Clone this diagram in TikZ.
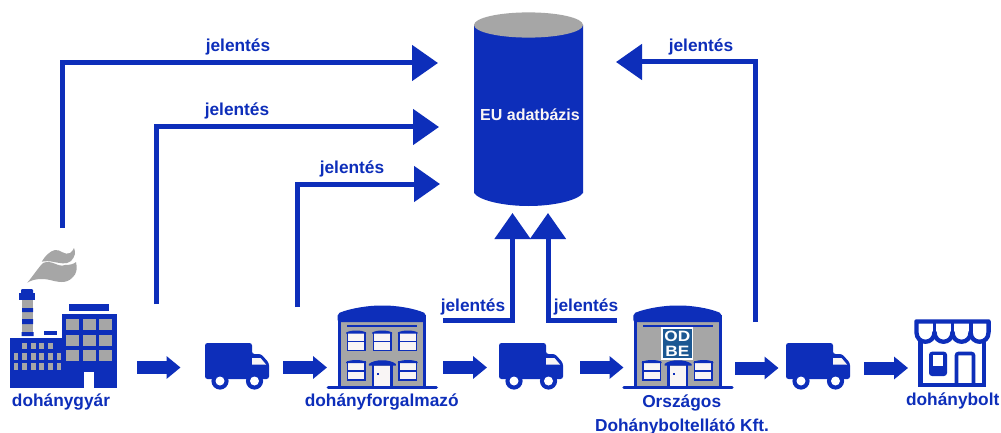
\documentclass[tikz,border=0pt]{standalone}
\usepackage{fontspec}
\setmainfont{Liberation Sans}
\usetikzlibrary{arrows.meta}
\definecolor{eublue}{RGB}{13,46,186}
\definecolor{eugray}{RGB}{166,166,166}
\definecolor{winwhite}{RGB}{249,245,245}
\definecolor{odbe}{RGB}{28,88,146}
\tikzset{
  lbl/.style={text=eublue,font=\fontsize{17.3}{20}\selectfont\bfseries,inner sep=0pt,align=center},
  report/.style={draw=eublue,line width=5pt,-{Triangle[length=26pt,width=35pt]}},
  flow/.style={draw=eublue,line width=13pt,-{Triangle[length=14pt,width=22pt]}},
  win/.style={fill=eugray,draw=none},
  sash/.style={fill=winwhite,draw=eublue,line width=1.5pt},
  logotext/.style={inner sep=0pt,text=white,xscale=1.15,font=\fontsize{15}{15}\selectfont\bfseries},
  pics/truck/.style={code={
    \fill[eublue,rounded corners=2.5pt] (0,0) -- (47,0) -- (47,11) -- (56,11) -- (64,20) -- (64,36) -- (0,36) -- cycle;
    \fill[winwhite] (47,15) -- (55.5,15) -- (61,21.5) -- (47,21.5) -- cycle;
    \fill[eublue] (15,38) circle (8.6) (49.5,38) circle (8.6);
    \fill[white] (15,38) circle (4.5) (49.5,38) circle (4.5);
  }},
  pics/house/.style={code={
    \fill[eugray] (0,9) rectangle (85,82);
    \draw[eublue,line width=3pt] (0,10) -- (0,82) (85.5,10) -- (85.5,82);
    \draw[eublue,line width=3.4pt,line cap=round] (-11,82.3) -- (97,82.3);
    \fill[eublue,rounded corners=2pt] (-1.6,17) -- (-1.6,8.5) .. controls (12,3) and (30,0.5) .. (43,0.5) .. controls (56,0.5) and (74,3) .. (86.6,8.5) -- (86.6,17) -- cycle;
    \draw[eublue,line width=2.6pt] (33.5,58) -- (33.5,81) (52,58) -- (52,81);
    \fill[eublue] (29.5,59) .. controls (35,54) and (51,54) .. (56.5,59) -- (56.5,60.5) -- (29.5,60.5) -- cycle;
    \fill[winwhite] (35,60.5) rectangle (51,81);
    \fill[eublue] (37.5,68) rectangle (40,69.5);
  }},
  pics/housewin/.style={code={
    \draw[sash] (0,1.5) rectangle (17.5,19.5);
    \draw[eublue,line width=1.3pt] (0,10.5) -- (17.5,10.5);
    \fill[eublue] (-1.2,1.6) .. controls (3,-1.2) and (15,-1.2) .. (18.7,1.6) -- (18.7,2.6) -- (-1.2,2.6) -- cycle;
  }}
}
\begin{document}
\begin{tikzpicture}[x=1pt,y=-1pt,line join=miter]
\useasboundingbox (0,0) rectangle (1001,433);
\fill[white] (0,0) rectangle (1001,433);

% database
\fill[eublue] (474,25) -- (474,193) .. controls (480,201) and (505,206) .. (528.5,206) .. controls (552,206) and (577,201) .. (583,193) -- (583,25) -- cycle;
\fill[eugray] (528.5,25) ellipse[x radius=54.5,y radius=12.6];
\node[inner sep=0pt,text=winwhite,font=\fontsize{16}{18}\selectfont\bfseries] (db) at (530,114.5) {EU adatbázis};
\coordinate (dbA) at (438,63);
\coordinate (dbB) at (439,127);
\coordinate (dbC) at (440,184);
\coordinate (dbD) at (616,62);
\coordinate (dbE) at (512.5,213);
\coordinate (dbF) at (548,213);

% factory
\begin{scope}
\fill[eublue] (9.5,338) rectangle (62,388);
\fill[eublue] (62,314) rectangle (117,388);
\fill[white] (84,372) rectangle (94,388.5);
\fill[eublue] (69,304) rectangle (109,311);
\fill[eublue] (44,331) rectangle (57,335);
\fill[eugray] (22,300) rectangle (33,332);
\fill[eublue] (22,308) rectangle (33,312) (22,319) rectangle (33,324) (21.5,332) rectangle (33.5,336);
\fill[eublue] (19,293) rectangle (35,300);
\fill[eublue,rounded corners=1pt] (21,289) rectangle (33,294);
\foreach \xx in {66,83,99}\foreach \yy in {319,335,350}
  \fill[win] (\xx,\yy) rectangle +(13,11);
\foreach \xx in {22,31,39,48} \fill[win] (\xx,342.5) rectangle +(4.7,6.5);
\foreach \xx in {13.5,22,31,39,48,56.5} {\fill[win] (\xx,353) rectangle +(4.7,6.5); \fill[win] (\xx,363) rectangle +(4.7,6.5);}
\fill[eugray] (27.3,282.7) .. controls (33,276) and (38,268) .. (43,263) .. controls (52,259) and (58,268) .. (65,265) .. controls (70,265) and (74,264) .. (76,262) .. controls (77.5,268) and (77,274) .. (72,278) .. controls (66,284) and (58,282) .. (50,280) .. controls (42,278) and (33,279) .. (27.3,282.7) -- cycle;
\fill[eugray] (41.7,261.7) .. controls (45,256) and (50,251) .. (55,250) .. controls (60,249) and (65,256) .. (70,253) .. controls (72,252) and (73,250) .. (74,248) .. controls (76,252) and (75,257) .. (71,261) .. controls (66,265) and (60,263) .. (54,262) .. controls (50,261) and (45,261) .. (41.7,261.7) -- cycle;
\end{scope}
\coordinate (factoryTop) at (62,228);
\node[lbl] (factoryL) at (61,401.5) {dohánygyár};

% trucks
\pic at (205,343) {truck};
\pic at (499,343) {truck};
\pic at (786,343) {truck};

% wholesaler
\pic at (339.3,305) {house};
\foreach \xx/\yy in {347.3/331,373.3/331,399/331,347.3/360.5,399/360.5} \pic at (\xx,\yy) {housewin};
\fill[eublue] (346.7,325) rectangle (416.7,327);
\node[lbl] (wholesaleL) at (381.7,401.5) {dohányforgalmazó};
\coordinate (wsTop) at (297,307);

% national distributor
\pic at (635,305) {house};
\foreach \xx/\yy in {643/360.5,694.7/360.5} \pic at (\xx,\yy) {housewin};
\fill[eublue] (643,325) rectangle (712.5,327);
\fill[white] (661,327) rectangle (693.3,359.5);
\fill[odbe] (663,329) rectangle (691.5,358);
\node[logotext] (logoA) at (677.3,336.7) {OD};
\node[logotext] (logoB) at (677.3,351) {BE};
\node[lbl] (natA) at (681.7,402.5) {Országos};
\node[lbl] (natB) at (682,426.5) {Dohányboltellátó Kft.};

% shop
\begin{scope}
\draw[eublue,line width=4.3pt] (920.5,340) -- (920.5,385) -- (984,385) -- (984,340);
\draw[eublue,line width=4.3pt,line join=round,fill=white] (916.4,321.4) -- (988.6,321.4) -- (988.6,332)
  .. controls (988.6,345) and (970.6,345) .. (970.6,332)
  .. controls (970.6,345) and (952.5,345) .. (952.5,332)
  .. controls (952.5,345) and (934.5,345) .. (934.5,332)
  .. controls (934.5,345) and (916.4,345) .. (916.4,332) -- cycle;
\draw[eublue,line width=3.8pt] (934.5,321.4) -- (934.5,332) (952.5,321.4) -- (952.5,332) (970.6,321.4) -- (970.6,332);
\fill[eublue,rounded corners=3pt] (929,351.7) rectangle (947,376);
\fill[white] (933,355) rectangle (943,366);
\draw[eublue,line width=3.6pt,rounded corners=2pt] (956.5,385) -- (956.5,353.5) -- (973.5,353.5) -- (973.5,385);
\end{scope}
\node[lbl] (shopL) at (952.7,401) {dohánybolt};

% report lines
\coordinate (s1) at (156,304);
\draw[report] (factoryTop) |- (dbA);
\draw[report] (s1) |- (dbB);
\draw[report] (wsTop) |- (dbC);
\coordinate (s4) at (755,322);
\draw[report] (s4) |- (dbD);
\coordinate (s5) at (443,320);
\coordinate (s6) at (617,320);
\draw[report] (s5) -| (dbE);
\draw[report] (s6) -| (dbF);

% labels
\node[lbl] (r1) at (238,47) {jelentés};
\node[lbl] (r2) at (237,111) {jelentés};
\node[lbl] (r3) at (352,169) {jelentés};
\node[lbl] (r4) at (473,307) {jelentés};
\node[lbl] (r5) at (586,307) {jelentés};
\node[lbl] (r6) at (701,47) {jelentés};

% flow arrows
\foreach \n/\a/\b/\yy in {1/137/180.5/367.5,2/283/327/367.5,3/443/487/367.5,4/580/623.5/367.5,5/735/778.5/368,6/864/908/368}{
  \coordinate (fa\n) at (\a,\yy);
  \coordinate (fb\n) at (\b,\yy);
  \draw[flow] (fa\n) -- (fb\n);
}
\end{tikzpicture}
\end{document}
